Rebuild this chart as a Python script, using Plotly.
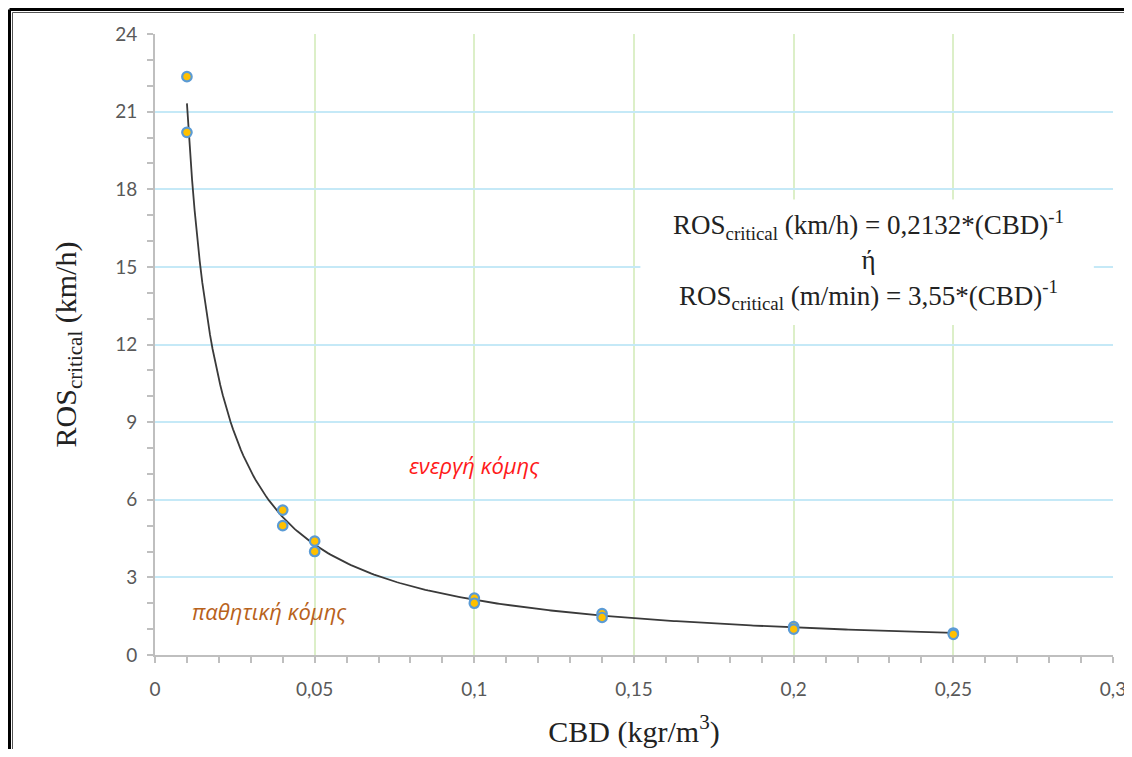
import numpy as np
import plotly.graph_objects as go

# ---- data ----
cbd = [0.01, 0.01, 0.04, 0.04, 0.05, 0.05, 0.10, 0.10, 0.14, 0.14, 0.20, 0.20, 0.25, 0.25]
ros = [22.35, 20.2, 5.6, 5.0, 4.4, 4.0, 2.2, 2.0, 1.6, 1.45, 1.1, 1.0, 0.85, 0.8]
trend_coef = 0.2132          # ROS = 0.2132 * CBD^-1 (from the chart's equation)
trend_range = (0.01, 0.25)
x_ticks = [0, 0.05, 0.1, 0.15, 0.2, 0.25, 0.3]
y_ticks = [0, 3, 6, 9, 12, 15, 18, 21, 24]

OFF = 8                      # page body margin of the html page
W, H = 1132 - OFF, 757 - 2 * OFF
L, T = 155 - OFF, 34 - OFF
R = W - (1113 - OFF)
B = H - (655 - OFF)
pw, ph = W - L - R, H - T - B

def px2paper_x(px):
    return (px - OFF - L) / pw

def px2paper_y(py):
    return (H + OFF - B - py) / ph

trend_x = np.linspace(trend_range[0], trend_range[1], 300)
trend_y = trend_coef / trend_x

fig = go.Figure()
fig.add_trace(go.Scatter(x=trend_x, y=trend_y, mode="lines",
                         line=dict(color="#3a3a3a", width=1.8), hoverinfo="skip"))
fig.add_trace(go.Scatter(x=cbd, y=ros, mode="markers",
                         marker=dict(size=9.5, color="#FFC000",
                                     line=dict(color="#5B9BD5", width=2.2))))

tickfont = dict(family="Lato, Open Sans, sans-serif", size=19, color="#595959")
serif = "Liberation Serif, Times New Roman, serif"

fig.update_layout(
    width=W, height=H,
    margin=dict(l=L, r=R, t=T, b=B, autoexpand=False),
    paper_bgcolor="white", plot_bgcolor="white",
    showlegend=False,
    separators=", ",
    xaxis=dict(range=[0, 0.3], tickvals=x_ticks, showgrid=True,
               gridcolor="#DCEFC8", gridwidth=1.5,
               showline=True, linecolor="#BFBFBF", linewidth=2,
               ticks="outside", ticklen=6, tickcolor="#BFBFBF", tickwidth=1.5,
               minor=dict(dtick=0.01, ticks="outside", ticklen=6, tickcolor="#BFBFBF", showgrid=False),
               tickfont=tickfont, ticklabelstandoff=10, zeroline=False, automargin=False,
               ticklabeloverflow="allow",
               title=dict(text="CBD (kgr/m<sup>3</sup>)", font=dict(family=serif, size=30, color="#222222"),
                          standoff=25)),
    yaxis=dict(range=[0, 24], tickvals=y_ticks, showgrid=True,
               gridcolor="#C5E9F7", gridwidth=2,
               showline=True, linecolor="#BFBFBF", linewidth=2,
               ticks="outside", ticklen=6, tickcolor="#BFBFBF", tickwidth=1.5,
               minor=dict(dtick=1, ticks="outside", ticklen=6, tickcolor="#BFBFBF", showgrid=False),
               tickfont=tickfont, ticklabelstandoff=6, zeroline=False, automargin=False,
               ticklabeloverflow="allow",
               title=dict(text="ROS<sub>critical</sub> (km/h)", font=dict(family=serif, size=30, color="#222222"),
                          standoff=30)),
)

# white box behind the equation
fig.add_shape(type="rect", xref="x", yref="y", x0=0.152, x1=0.294, y0=12.75, y1=17.6,
              fillcolor="white", line=dict(width=0), layer="between")

fig.add_annotation(x=0.2235, y=15.25, xref="x", yref="y", showarrow=False,
                   text="ROS<sub>critical</sub> (km/h) = 0,2132*(CBD)<sup>-1</sup><br>ή<br>"
                        "ROS<sub>critical</sub> (m/min) = 3,55*(CBD)<sup>-1</sup>",
                   font=dict(family=serif, size=27, color="#222222"), align="center")

fig.add_annotation(x=0.1, y=7.35, xref="x", yref="y", showarrow=False,
                   text="<i>ενεργή κόμης</i>",
                   font=dict(family="Open Sans, Noto Sans, sans-serif", size=22, color="#FF1A1A"))
fig.add_annotation(x=0.036, y=1.7, xref="x", yref="y", showarrow=False,
                   text="<i>παθητική κόμης</i>",
                   font=dict(family="Open Sans, Noto Sans, sans-serif", size=22, color="#B8621B"))

# outer frame (double line at top and left)
fx0 = px2paper_x(9.5)
fx1 = px2paper_x(1140)
fy0 = px2paper_y(9.5)
fy1 = px2paper_y(765)
fig.add_shape(type="line", xref="paper", yref="paper", x0=fx0, x1=fx1, y0=fy0, y1=fy0,
              line=dict(color="black", width=3))
fig.add_shape(type="line", xref="paper", yref="paper", x0=fx0, x1=fx0, y0=fy0, y1=fy1,
              line=dict(color="black", width=3))
gx = px2paper_x(12.5)
gy = px2paper_y(12.5)
fig.add_shape(type="line", xref="paper", yref="paper", x0=gx, x1=fx1, y0=gy, y1=gy,
              line=dict(color="#555555", width=1))
fig.add_shape(type="line", xref="paper", yref="paper", x0=gx, x1=gx, y0=gy, y1=fy1,
              line=dict(color="#555555", width=1))

fig.write_html("out.html")
